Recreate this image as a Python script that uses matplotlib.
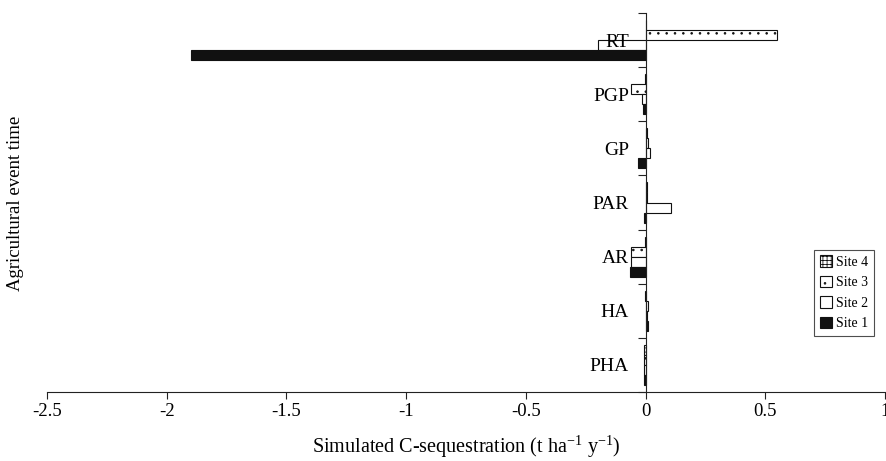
import numpy as np
import matplotlib
matplotlib.use("Agg")
import matplotlib.pyplot as plt
from matplotlib.patches import Patch

plt.rcParams['font.family'] = ['Liberation Serif', 'DejaVu Serif']
plt.rcParams['mathtext.fontset'] = 'custom'
plt.rcParams['mathtext.rm'] = 'Liberation Serif'
plt.rcParams['axes.unicode_minus'] = False
plt.rcParams['hatch.linewidth'] = 0.6

# categories top to bottom
events = ['RT', 'PGP', 'GP', 'PAR', 'AR', 'HA', 'PHA']
site1 = [-1.90, -0.012, -0.033, -0.005, -0.063, 0.010, -0.008]
site2 = [-0.20, -0.015, 0.020, 0.108, -0.060, 0.008, -0.005]
site3 = [0.55, -0.060, 0.012, 0.008, -0.060, 0.010, -0.008]
site4 = [0.0, -0.003, 0.005, 0.004, -0.003, -0.003, -0.005]
xticks = [-2.5, -2, -1.5, -1, -0.5, 0, 0.5, 1]
xticklabels = ['-2.5', '-2', '-1.5', '-1', '-0.5', '0', '0.5', '1']

fig = plt.figure(figsize=(8.87, 4.61), dpi=100)
ax = fig.add_axes([47 / 887, 1 - 392 / 461, 838 / 887, 379 / 461])

y = np.arange(len(events))
h = 0.185
series = [
    (site4, 'Site 4', 'white', '++++', -1.5),
    (site3, 'Site 3', 'white', '..', -0.5),
    (site2, 'Site 2', 'white', None, 0.5),
    (site1, 'Site 1', '#111111', None, 1.5),
]
for vals, name, fc, hatch, off in series:
    ax.barh(y + off * h, vals, height=h, color=fc, edgecolor='#111111',
            linewidth=0.8, hatch=hatch, label=name)

ax.set_xlim(-2.5, 1)
ax.set_ylim(len(events) - 0.5, -0.5)

ax.spines['top'].set_visible(False)
ax.spines['right'].set_visible(False)
ax.spines['left'].set_position(('data', 0))
ax.spines['left'].set_color('#222222')
ax.spines['bottom'].set_color('#222222')

ax.set_xticks(xticks)
ax.set_xticklabels(xticklabels, fontsize=13.5)
ax.tick_params(axis='x', direction='out', length=5, width=0.8, pad=3, colors='#222222', labelcolor='black')

ax.set_yticks(y)
ax.set_yticklabels(events, fontsize=14)
ax.set_yticks(np.arange(len(events) + 1) - 0.5, minor=True)
ax.tick_params(axis='y', which='major', length=0, pad=12)
ax.tick_params(axis='y', which='minor', direction='out', length=6, width=0.8, colors='#222222')

fig.text(466 / 887, 1 - 447 / 461, 'Simulated C-sequestration (t ha$^{\\mathrm{-1}}$ y$^{\\mathrm{-1}}$)',
         ha='center', va='center', fontsize=14.5)
fig.text(16 / 887, 1 - 203 / 461, 'Agricultural event time', rotation=90,
         ha='center', va='center', fontsize=13.5)

handles = [Patch(facecolor=fc, edgecolor='#111111', hatch=hatch, linewidth=0.8, label=name)
           for vals, name, fc, hatch, off in series]
leg = fig.legend(handles=handles, loc='lower right', bbox_to_anchor=(874 / 887, 1 - 336 / 461),
                 fontsize=10, frameon=True, fancybox=False, edgecolor='#222222',
                 handlelength=0.9, handleheight=0.9, handletextpad=0.3,
                 borderpad=0.4, labelspacing=0.5, borderaxespad=0)
leg.get_frame().set_linewidth(0.8)

fig.savefig('out.png', dpi=100)
